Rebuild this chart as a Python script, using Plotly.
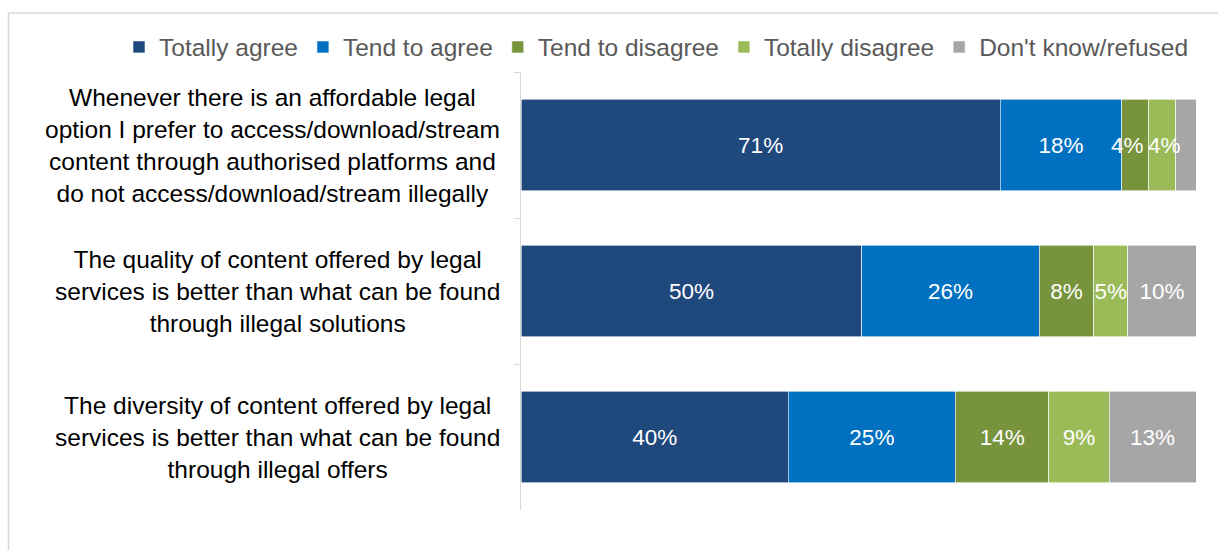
import plotly.graph_objects as go

# Survey statements (top to bottom)
statements = [
    "Whenever there is an affordable legal<br>option I prefer to access/download/stream<br>content through authorised platforms and<br>do not access/download/stream illegally",
    "The quality of content offered by legal<br>services is better than what can be found<br>through illegal solutions",
    "The diversity of content offered by legal<br>services is better than what can be found<br>through illegal offers",
]
short_names = ["Affordable legal option", "Quality of content", "Diversity of content"]

# Answer shares (%) per statement
answers = ["Totally agree", "Tend to agree", "Tend to disagree", "Totally disagree", "Don't know/refused"]
totally_agree = [71, 50, 40]
tend_to_agree = [18, 26, 25]
tend_to_disagree = [4, 8, 14]
totally_disagree = [4, 5, 9]
dont_know = [3, 10, 13]

colors = ["#1F497D", "#0070C0", "#77933C", "#9BBB59", "#A6A6A6"]
series = [totally_agree, tend_to_agree, tend_to_disagree, totally_disagree, dont_know]

FONT = "Liberation Sans, Arial, sans-serif"
LABEL_SIZE = 22.5
W, H = 1218, 550
M_L, M_R, M_T, M_B = 521, 22, 72, 40
PW, PH = W - M_L - M_R, H - M_T - M_B

# Narrow segments: label drawn as an annotation, nudged apart (px)
NARROW = 5
nudge = {2: -8, 3: 2}


def px_x(px):
    return (px - M_L) / PW


def px_y(py):
    return (H - M_B - py) / PH


totals = [sum(s[j] for s in series) for j in range(len(short_names))]

fig = go.Figure()
cum = [0.0] * len(short_names)
for i, (name, vals, col) in enumerate(zip(answers, series, colors)):
    labels = []
    for j, v in enumerate(vals):
        share_mid = (cum[j] + v / 2) / totals[j] * 100
        cum[j] += v
        if v < 4:
            labels.append("")
        elif v < NARROW:
            labels.append("")
            fig.add_annotation(
                x=share_mid, xref="x", y=short_names[j], yref="y",
                text=f"{v}%", showarrow=False,
                xanchor="center", yanchor="middle",
                xshift=nudge.get(i, 0),
                font=dict(family=FONT, size=LABEL_SIZE, color="white"),
            )
        else:
            labels.append(f"{v}%")
    fig.add_trace(go.Bar(
        name=name,
        y=short_names,
        x=vals,
        orientation="h",
        marker=dict(color=col, line=dict(color="white", width=0.6)),
        text=labels,
        textposition="inside",
        insidetextanchor="middle",
        textangle=0,
        textfont=dict(color="white", size=LABEL_SIZE, family=FONT),
        hoverinfo="skip",
    ))

# Multi-line, centred statement labels left of the axis
for key, label in zip(short_names, statements):
    fig.add_annotation(
        x=0, xref="paper", y=key, yref="y",
        text=label, showarrow=False,
        xanchor="right", yanchor="middle", align="center",
        xshift=-19,
        font=dict(family=FONT, size=24.5, color="#000000"),
    )

# Chart frame
fig.add_shape(
    type="rect", xref="paper", yref="paper",
    x0=px_x(8.5), x1=px_x(1240), y0=px_y(570), y1=px_y(13),
    line=dict(color="#D9D9D9", width=1.6), fillcolor="rgba(0,0,0,0)",
    layer="below",
)

fig.update_layout(
    width=W, height=H,
    margin=dict(l=M_L, r=M_R, t=M_T, b=M_B, autoexpand=False),
    barmode="stack",
    barnorm="percent",
    bargap=0.375,
    plot_bgcolor="white",
    paper_bgcolor="white",
    font=dict(family=FONT, color="#595959"),
    uniformtext=dict(minsize=LABEL_SIZE, mode="show"),
    showlegend=True,
    legend=dict(
        orientation="h",
        x=px_x(119), xanchor="left",
        y=px_y(47), yanchor="middle",
        font=dict(family=FONT, size=24.5, color="#595959"),
        traceorder="normal",
        itemwidth=30,
        bgcolor="rgba(0,0,0,0)",
    ),
    xaxis=dict(
        range=[0, 100], visible=False, fixedrange=True,
    ),
    yaxis=dict(
        autorange="reversed",
        showticklabels=False,
        showline=True, linecolor="#D9D9D9", linewidth=1,
        ticks="outside", tickson="boundaries", ticklen=6, tickcolor="#D9D9D9",
        showgrid=False, zeroline=False,
    ),
)

fig.write_html("out.html")
